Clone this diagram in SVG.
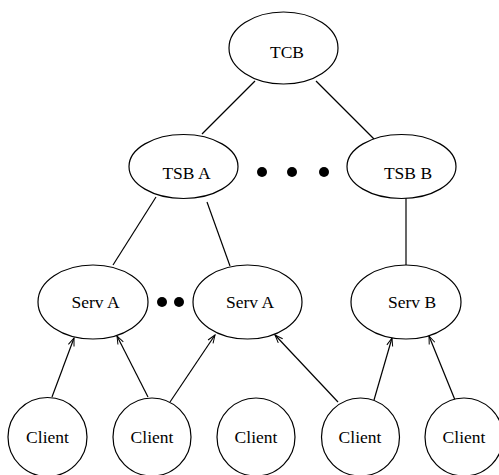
<svg xmlns="http://www.w3.org/2000/svg" width="499" height="475" viewBox="0 0 499 475">
<style>
.n{fill:#fff;stroke:#000;stroke-width:1.2}
.t{font-family:'Liberation Serif','Times New Roman',Times,serif;font-size:17.5px;text-anchor:middle;fill:#000}
.c line{stroke:#000;stroke-width:1.2}
.a{marker-end:url(#ar)}
.d{fill:#000}
</style>
<defs>
<marker id="ar" markerWidth="10" markerHeight="10" refX="9" refY="5" orient="auto" markerUnits="userSpaceOnUse">
<path d="M1,2 L9,5 L1,8" fill="none" stroke="#000" stroke-width="1"/>
</marker>
</defs>
<g id="connectors" class="c">
<line x1="255" y1="81" x2="202" y2="134"/>
<line x1="316" y1="81" x2="374" y2="139"/>
<line x1="156" y1="197" x2="113" y2="265"/>
<line x1="207" y1="202" x2="230" y2="266"/>
<line x1="406" y1="198" x2="406" y2="266"/>
<line class="a" x1="52" y1="397" x2="74" y2="338"/>
<line class="a" x1="148" y1="397" x2="117" y2="336"/>
<line class="a" x1="170" y1="402" x2="215" y2="335"/>
<line class="a" x1="338" y1="402" x2="275" y2="335"/>
<line class="a" x1="374" y1="400" x2="392" y2="338"/>
<line class="a" x1="455" y1="400" x2="429" y2="336"/>
</g>
<g id="dots1"><circle class="d" cx="262" cy="172" r="5"/><circle class="d" cx="292" cy="172" r="5"/><circle class="d" cx="324" cy="172" r="5"/></g>
<g id="dots2"><circle class="d" cx="162" cy="302" r="5"/><circle class="d" cx="179" cy="302" r="5"/></g>
<g id="tcb"><ellipse class="n" cx="283.5" cy="48" rx="54.5" ry="36"/><text class="t" font-family="Liberation Serif" x="287" y="58">TCB</text></g>
<g id="tsba"><ellipse class="n" cx="183.5" cy="166.5" rx="54.5" ry="32"/><text class="t" font-family="Liberation Serif" x="186.5" y="179">TSB A</text></g>
<g id="tsbb"><ellipse class="n" cx="401.5" cy="166.5" rx="54.5" ry="32"/><text class="t" font-family="Liberation Serif" x="408" y="179">TSB B</text></g>
<g id="serva1"><ellipse class="n" cx="93" cy="302" rx="55" ry="37"/><text class="t" font-family="Liberation Serif" x="95.5" y="308">Serv A</text></g>
<g id="serva2"><ellipse class="n" cx="247.5" cy="302" rx="54.5" ry="37"/><text class="t" font-family="Liberation Serif" x="250" y="308">Serv A</text></g>
<g id="servb"><ellipse class="n" cx="406" cy="302" rx="55" ry="37"/><text class="t" font-family="Liberation Serif" x="412" y="308">Serv B</text></g>
<g id="client1"><circle class="n" cx="47.5" cy="437" r="39.5"/><text class="t" font-family="Liberation Serif" x="47.5" y="443">Client</text></g>
<g id="client2"><circle class="n" cx="152" cy="437" r="39"/><text class="t" font-family="Liberation Serif" x="152" y="443">Client</text></g>
<g id="client3"><circle class="n" cx="256" cy="437" r="39"/><text class="t" font-family="Liberation Serif" x="256" y="443">Client</text></g>
<g id="client4"><circle class="n" cx="360.5" cy="437" r="39"/><text class="t" font-family="Liberation Serif" x="360" y="443">Client</text></g>
<g id="client5"><circle class="n" cx="464" cy="437" r="39"/><text class="t" font-family="Liberation Serif" x="464" y="443">Client</text></g>
</svg>
